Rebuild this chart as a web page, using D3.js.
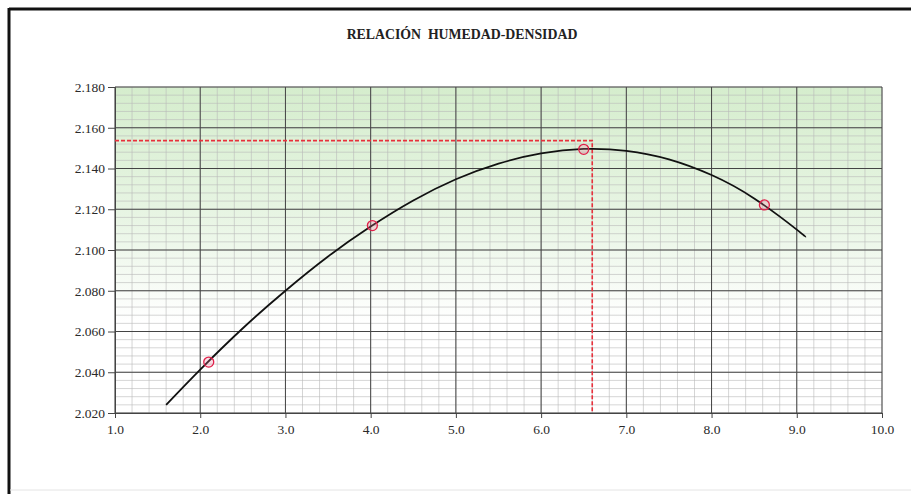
<!DOCTYPE html>
<html>
<head>
<meta charset="utf-8">
<script src="https://cdn.jsdelivr.net/npm/d3@7"></script>
<style>
  body { margin: 0; background: #fff; }
  svg { display: block; }
  svg text { font-family: "Liberation Serif", "DejaVu Serif", serif; }
</style>
</head>
<body>
<div id="chart"></div>
<script>
// ensayos (humedad %, densidad)
const humedad = [2.1, 4.02, 6.5, 8.62];
const densidad = [2.045, 2.112, 2.1494, 2.1221];

// curva de ajuste
const curvaX = [1.6, 2.0, 2.5, 3.0, 3.5, 4.0, 4.5, 5.0, 5.5, 6.0, 6.5, 7.0, 7.5, 8.0, 8.5, 9.0, 9.1];
const curvaY = [2.024, 2.0413, 2.0616, 2.080, 2.0968, 2.1115, 2.1243, 2.1347, 2.1424, 2.1474, 2.1496, 2.1487, 2.1445, 2.1368, 2.1253, 2.110, 2.1063];

// optimo
const humedadOpt = 6.6;
const densidadMax = 2.1537;

const xTicks = [1, 2, 3, 4, 5, 6, 7, 8, 9, 10];
const yTicks = [2.02, 2.04, 2.06, 2.08, 2.10, 2.12, 2.14, 2.16, 2.18];

const W = 911, H = 494;
const margin = { top: 87, right: 29, bottom: 81, left: 115 };
const width = W - margin.left - margin.right,
  height = H - margin.top - margin.bottom;

const svg = d3.select("#chart").append("svg")
  .attr("width", W).attr("height", H);

// marco
svg.append("line").attr("x1", 9).attr("x2", W).attr("y1", 9).attr("y2", 9)
  .attr("stroke", "#111").attr("stroke-width", 3);
svg.append("line").attr("x1", 9).attr("x2", 9).attr("y1", 8).attr("y2", H)
  .attr("stroke", "#111").attr("stroke-width", 3);
svg.append("line").attr("x1", 10).attr("x2", W).attr("y1", 490).attr("y2", 490)
  .attr("stroke", "#e4e4e4").attr("stroke-width", 1);

svg.append("text")
  .attr("x", 462).attr("y", 39)
  .attr("text-anchor", "middle")
  .attr("font-weight", "bold")
  .attr("font-size", "13.8px")
  .attr("fill", "#222")
  .style("white-space", "pre")
  .text("RELACIÓN  HUMEDAD-DENSIDAD");

const g = svg.append("g")
  .attr("transform", "translate(" + margin.left + "," + margin.top + ")");

const x = d3.scaleLinear().domain([1, 10]).range([0, width]);
const y = d3.scaleLinear().domain([2.02, 2.18]).range([height, 0]);

// fondo degradado verde
const grad = svg.append("defs").append("linearGradient")
  .attr("id", "fondo").attr("x1", 0).attr("x2", 0).attr("y1", 0).attr("y2", 1);
grad.append("stop").attr("offset", "0%").attr("stop-color", "#d5edcd");
grad.append("stop").attr("offset", "40%").attr("stop-color", "#e8f5e4");
grad.append("stop").attr("offset", "72%").attr("stop-color", "#ffffff");
grad.append("stop").attr("offset", "100%").attr("stop-color", "#ffffff");

g.append("rect")
  .attr("width", width).attr("height", height)
  .attr("fill", "url(#fondo)");

// rejilla menor
const xMinor = d3.range(1, 10.0001, 0.2);
const yMinor = d3.range(2.02, 2.18001, 0.004);
g.append("g").selectAll("line").data(xMinor).join("line")
  .attr("x1", d => x(d)).attr("x2", d => x(d))
  .attr("y1", 0).attr("y2", height)
  .attr("stroke", "#b8b8b8").attr("stroke-width", 0.6);
g.append("g").selectAll("line").data(yMinor).join("line")
  .attr("x1", 0).attr("x2", width)
  .attr("y1", d => y(d)).attr("y2", d => y(d))
  .attr("stroke", "#b8b8b8").attr("stroke-width", 0.6);

// rejilla mayor
g.append("g").selectAll("line").data(xTicks).join("line")
  .attr("x1", d => x(d)).attr("x2", d => x(d))
  .attr("y1", 0).attr("y2", height)
  .attr("stroke", "#444").attr("stroke-width", 1);
g.append("g").selectAll("line").data(yTicks).join("line")
  .attr("x1", 0).attr("x2", width)
  .attr("y1", d => y(d)).attr("y2", d => y(d))
  .attr("stroke", "#444").attr("stroke-width", 1);

// ejes
const xAxis = g.append("g")
  .attr("transform", "translate(0," + height + ")")
  .call(d3.axisBottom(x).tickValues(xTicks).tickFormat(d3.format(".1f")).tickSize(5).tickPadding(6));
const yAxis = g.append("g")
  .call(d3.axisLeft(y).tickValues(yTicks).tickFormat(d3.format(".3f")).tickSize(7).tickPadding(3));
[xAxis, yAxis].forEach(a => {
  a.attr("font-family", null);
  a.select(".domain").attr("stroke", "#444");
  a.selectAll(".tick line").attr("stroke", "#444");
  a.selectAll("text")
    .attr("font-size", "13.5px")
    .attr("fill", "#2a2a2a");
});

// lineas del optimo
g.append("path")
  .attr("d", d3.line()([[x(1), y(densidadMax)], [x(humedadOpt), y(densidadMax)], [x(humedadOpt), y(2.02)]]))
  .attr("fill", "none")
  .attr("stroke", "#e8303c")
  .attr("stroke-width", 1.6)
  .attr("stroke-dasharray", "4,2");

// curva
const line = d3.line()
  .x((d, i) => x(curvaX[i]))
  .y(d => y(d))
  .curve(d3.curveNatural);
g.append("path")
  .datum(curvaY)
  .attr("d", line)
  .attr("fill", "none")
  .attr("stroke", "#111")
  .attr("stroke-width", 1.8);

// puntos
g.append("g").selectAll("circle").data(humedad).join("circle")
  .attr("cx", d => x(d))
  .attr("cy", (d, i) => y(densidad[i]))
  .attr("r", 5)
  .attr("fill", "rgba(240,120,150,0.25)")
  .attr("stroke", "#e0204a")
  .attr("stroke-width", 1.3);
</script>
</body>
</html>
